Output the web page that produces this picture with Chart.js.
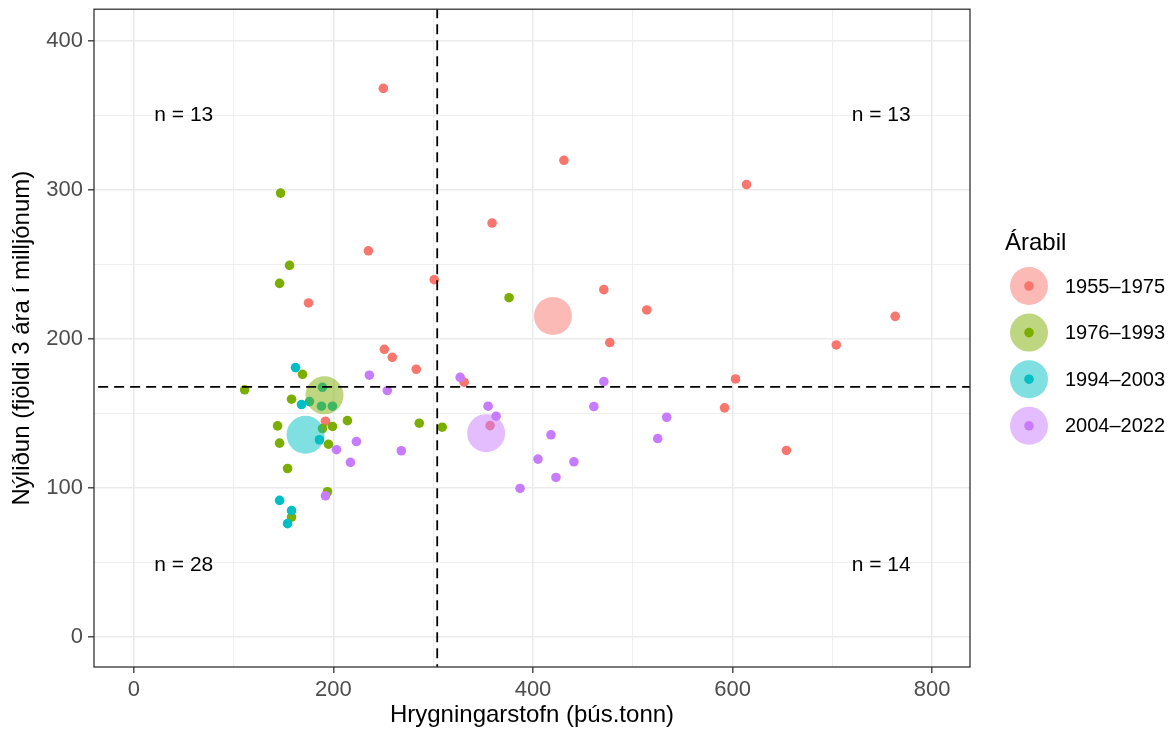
<!DOCTYPE html>
<html>
<head>
<meta charset="utf-8">
<script src="https://cdn.jsdelivr.net/npm/chart.js@4.4.1/dist/chart.umd.min.js"></script>
<style>
  html, body { margin: 0; padding: 0; background: #fff; overflow: hidden; }
  #wrap { width: 1173px; height: 740px; margin-top: -9px; }
</style>
</head>
<body>
<div id="wrap"><canvas id="chart"></canvas></div>
<script>
// tímabil og litir
const periods = ['1955–1975', '1976–1993', '1994–2003', '2004–2022'];
const colors = ['#F8766D', '#7CAE00', '#00BFC4', '#C77CFF'];
const fadedColors = ['rgba(248,118,109,0.5)', 'rgba(124,174,0,0.5)', 'rgba(0,191,196,0.5)', 'rgba(199,124,255,0.5)'];

// hrygningarstofn (x) og nýliðun (y) fyrir hvert ár, lesið af myndinni
const ssb1955 = [250, 431, 614, 359, 235, 301, 471, 514, 477, 763, 704, 603, 592, 654, 251, 259, 283, 331, 357, 175, 192];
const rec1955 = [368.3, 320, 303.7, 277.9, 259.3, 239.9, 233.2, 219.6, 197.7, 215.3, 196.1, 173.3, 153.9, 125.3, 193.2, 187.8, 179.8, 171.1, 142, 224.3, 144.9];

const ssb1976 = [147, 156, 146, 376, 169, 111, 158, 214, 286, 309, 199, 144, 146, 195, 154, 194, 158, 189];
const rec1976 = [298, 249.5, 237.4, 227.8, 176.4, 166, 159.7, 145.3, 143.6, 140.9, 141.4, 141.8, 130.2, 129.5, 113.2, 97.6, 80.6, 140];

const ssb1994 = [162, 168, 176, 188, 199, 189, 186, 146, 158, 154];
const rec1994 = [180.9, 156.1, 158.1, 155, 155, 167.7, 132.5, 91.8, 84.9, 76.2];

const ssb2004 = [236, 254, 327, 355, 363, 418, 405, 441, 423, 387, 461, 471, 534, 525, 223, 268, 217, 203, 192];
const rec2004 = [175.8, 165.5, 174.4, 155, 148.3, 135.8, 119.5, 117.7, 107.2, 99.8, 154.8, 171.5, 147.6, 133.3, 131.3, 125.1, 117.3, 125.8, 94.9];

// meðaltöl tímabila
const meanSsb = [420, 191, 172, 353];
const meanRec = [215.5, 162.3, 135.8, 136.9];

// skiptilínur
const cutSsb = 304;
const cutRec = 168;

const quadrantText = ['n = 13', 'n = 13', 'n = 28', 'n = 14'];

const allSsb = [ssb1955, ssb1976, ssb1994, ssb2004];
const allRec = [rec1955, rec1976, rec1994, rec2004];

function toPoints(xs, ys) {
  return xs.map((x, i) => ({ x: x, y: ys[i] }));
}

const FONT = 'Liberation Sans, Arial, sans-serif';
const SHIFT = 9; // striginn er færður upp um 9px

const datasets = [];
// línurnar efst
datasets.push({
  type: 'line', data: [{ x: cutSsb, y: -100 }, { x: cutSsb, y: 600 }],
  borderColor: '#000', borderWidth: 1.8, borderDash: [10, 6], pointRadius: 0, order: -2
});
datasets.push({
  type: 'line', data: [{ x: -100, y: cutRec }, { x: 1000, y: cutRec }],
  borderColor: '#000', borderWidth: 1.8, borderDash: [10, 6], pointRadius: 0, order: -2
});
// meðaltöl
datasets.push({
  type: 'scatter', data: toPoints(meanSsb, meanRec),
  backgroundColor: fadedColors, borderWidth: 0, pointRadius: 19, order: -1
});
// einstök ár, seinni tímabil ofan á
for (let i = 0; i < periods.length; i++) {
  datasets.push({
    type: 'scatter', label: periods[i], data: toPoints(allSsb[i], allRec[i]),
    backgroundColor: colors[i], borderWidth: 0, pointRadius: 4.8, order: 10 - i
  });
}

const frame = {
  id: 'frame',
  afterDatasetsDraw(chart) {
    const { ctx, chartArea: a, scales } = chart;
    ctx.save();
    // n = ... textar
    ctx.fillStyle = '#000';
    ctx.font = '21px ' + FONT;
    ctx.textAlign = 'center';
    ctx.textBaseline = 'middle';
    const qx = [50, 749, 50, 749];
    const qy = [350, 350, 48, 48];
    quadrantText.forEach((t, i) => {
      ctx.fillText(t, scales.x.getPixelForValue(qx[i]), scales.y.getPixelForValue(qy[i]));
    });
    // rammi
    ctx.strokeStyle = '#333';
    ctx.lineWidth = 1.3;
    ctx.strokeRect(a.left, a.top, a.right - a.left, a.bottom - a.top);
    ctx.restore();
  },
  afterDraw(chart) {
    const ctx = chart.ctx;
    ctx.save();
    ctx.fillStyle = '#000';
    ctx.font = '24px ' + FONT;
    ctx.textAlign = 'left';
    ctx.textBaseline = 'middle';
    ctx.fillText('Árabil', 1005, 243 + SHIFT);
    ctx.font = '20px ' + FONT;
    for (let i = 0; i < periods.length; i++) {
      const cy = 286 + SHIFT + i * 46.6;
      ctx.fillStyle = fadedColors[i];
      ctx.beginPath(); ctx.arc(1029, cy, 19, 0, Math.PI * 2); ctx.fill();
      ctx.fillStyle = colors[i];
      ctx.beginPath(); ctx.arc(1029, cy, 4.8, 0, Math.PI * 2); ctx.fill();
      ctx.fillStyle = '#000';
      ctx.fillText(periods[i], 1065, cy + 1);
    }
    ctx.restore();
  }
};

const ctx = document.getElementById('chart').getContext('2d');

const config = {
  type: 'scatter',
  data: { datasets: datasets },
  options: {
    responsive: true,
    maintainAspectRatio: false,
    animation: false,
    events: [],
    layout: { autoPadding: false, padding: { left: 0, right: 203, top: 8, bottom: 0 } },
    scales: {
      x: {
        type: 'linear', min: -40, max: 838,
        border: { display: false },
        grid: {
          color: '#EBEBEB',
          lineWidth: c => (c.tick && c.tick.value % 200 === 0) ? 1.6 : 0.8,
          tickLength: 6,
          tickWidth: 1.3,
          tickColor: c => (c.tick && c.tick.value % 200 === 0) ? '#333' : 'rgba(0,0,0,0)'
        },
        ticks: {
          stepSize: 100, includeBounds: false, autoSkip: false, maxRotation: 0,
          color: '#4D4D4D', font: { family: FONT, size: 22 }, padding: 4,
          callback: v => v % 200 === 0 ? v : ''
        },
        title: {
          display: true, text: 'Hrygningarstofn (þús.tonn)', color: '#000',
          font: { family: FONT, size: 24 }, padding: { top: 0, bottom: 1 }
        },
        afterFit: s => { s.height = 64; }
      },
      y: {
        type: 'linear', min: -20, max: 421.4,
        border: { display: false },
        grid: {
          color: '#EBEBEB',
          lineWidth: c => (c.tick && c.tick.value % 100 === 0) ? 1.6 : 0.8,
          tickLength: 6,
          tickWidth: 1.3,
          tickColor: c => (c.tick && c.tick.value % 100 === 0) ? '#333' : 'rgba(0,0,0,0)'
        },
        ticks: {
          stepSize: 50, includeBounds: false, autoSkip: false,
          color: '#4D4D4D', font: { family: FONT, size: 22 }, padding: 5,
          callback: v => v % 100 === 0 ? v : ''
        },
        title: {
          display: true, text: 'Nýliðun (fjöldi 3 ára í milljónum)', color: '#000',
          font: { family: FONT, size: 24 }, padding: { top: 8, bottom: 0 }
        },
        afterFit: s => { s.width = 94; }
      }
    },
    plugins: {
      legend: { display: false },
      tooltip: { enabled: false }
    }
  },
  plugins: [frame]
};

const chart = new Chart(ctx, config);
</script>
</body>
</html>
